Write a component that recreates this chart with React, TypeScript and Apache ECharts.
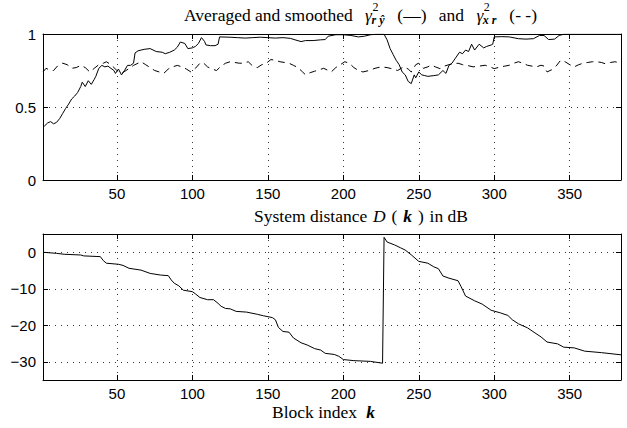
import React, { useEffect, useRef } from "react";
import * as echarts from "echarts";

// ---- axes ----
const kMin = 1;
const kMax = 384;
const xTicks = [50, 100, 150, 200, 250, 300, 350];
const topYTicks = [0, 0.5, 1];
const bottomYTicks = [-30, -20, -10, 0];

// ---- averaged & smoothed gamma^2_{r yhat} (solid) ----
const gammaRyK = [1, 2, 4, 6, 8, 10, 12, 14, 16, 18, 20, 22, 24, 26, 27, 29, 31, 33, 35, 36, 38, 40, 42, 44, 46, 48, 49, 51, 53, 55, 57, 59, 61, 62, 64, 68, 72, 76, 80, 82, 85, 88, 90, 92, 95, 97, 100, 102, 104, 106, 108, 109, 112, 115, 117, 118, 125, 130, 135, 140, 145, 150, 155, 160, 165, 168, 172, 175, 180, 185, 188, 190, 195, 200, 205, 210, 214, 218, 222, 227, 229, 231, 233, 235, 237, 239, 241, 243, 245, 247, 248, 250, 252, 254, 256, 260, 263, 266, 268, 270, 272, 274, 277, 279, 281, 283, 285, 287, 290, 293, 295, 298, 299, 300, 305, 310, 316, 321, 326, 330, 333, 336, 340, 343, 346, 360, 384];
const gammaRyV = [0.36, 0.37, 0.39, 0.4, 0.385, 0.395, 0.42, 0.455, 0.49, 0.52, 0.555, 0.575, 0.6, 0.64, 0.67, 0.64, 0.68, 0.655, 0.69, 0.71, 0.765, 0.785, 0.775, 0.78, 0.765, 0.75, 0.73, 0.76, 0.72, 0.75, 0.785, 0.785, 0.8, 0.87, 0.885, 0.895, 0.9, 0.88, 0.875, 0.865, 0.875, 0.89, 0.91, 0.945, 0.935, 0.9, 0.905, 0.915, 0.935, 0.975, 0.95, 0.925, 0.92, 0.92, 0.93, 0.98, 0.978, 0.975, 0.972, 0.975, 0.978, 0.975, 0.972, 0.975, 0.97, 0.96, 0.948, 0.955, 0.955, 0.96, 0.962, 0.985, 0.995, 0.995, 0.99, 0.98, 0.985, 0.995, 0.998, 0.998, 0.96, 0.9, 0.86, 0.82, 0.79, 0.74, 0.72, 0.675, 0.66, 0.72, 0.7, 0.74, 0.72, 0.715, 0.71, 0.715, 0.72, 0.75, 0.73, 0.785, 0.8, 0.83, 0.875, 0.865, 0.89, 0.88, 0.93, 0.89, 0.93, 0.905, 0.915, 0.925, 0.93, 0.98, 0.982, 0.98, 0.968, 0.965, 0.968, 0.99, 0.99, 0.962, 0.965, 0.99, 0.998, 0.998, 0.998];

// ---- averaged & smoothed gamma^2_{x r} (dashed) ----
const gammaXrK = [1, 3, 6, 8, 11, 14, 17, 20, 23, 26, 29, 32, 35, 38, 41, 43, 46, 48, 50, 53, 56, 59, 61, 64, 66, 69, 72, 75, 78, 81, 84, 87, 90, 93, 96, 99, 102, 105, 107, 110, 113, 116, 119, 122, 125, 128, 131, 134, 137, 140, 143, 146, 149, 152, 155, 158, 161, 164, 167, 170, 173, 175, 178, 181, 184, 187, 190, 192, 195, 198, 201, 204, 207, 210, 213, 217, 221, 225, 229, 233, 236, 240, 243, 245, 248, 250, 253, 256, 258, 261, 264, 267, 270, 273, 276, 279, 282, 286, 290, 294, 297, 300, 304, 307, 310, 313, 316, 319, 322, 325, 328, 331, 333, 335, 338, 341, 344, 347, 350, 353, 356, 359, 362, 365, 368, 371, 374, 377, 380, 384];
const gammaXrV = [0.74, 0.765, 0.75, 0.75, 0.785, 0.8, 0.79, 0.765, 0.77, 0.785, 0.77, 0.74, 0.765, 0.79, 0.8, 0.81, 0.79, 0.77, 0.75, 0.73, 0.75, 0.77, 0.785, 0.8, 0.81, 0.79, 0.77, 0.75, 0.74, 0.73, 0.76, 0.775, 0.785, 0.775, 0.76, 0.74, 0.765, 0.8, 0.805, 0.775, 0.76, 0.75, 0.78, 0.8, 0.81, 0.805, 0.8, 0.8, 0.81, 0.78, 0.77, 0.79, 0.8, 0.825, 0.82, 0.81, 0.805, 0.8, 0.785, 0.77, 0.74, 0.72, 0.735, 0.745, 0.755, 0.765, 0.75, 0.74, 0.77, 0.79, 0.81, 0.8, 0.77, 0.75, 0.74, 0.75, 0.765, 0.775, 0.77, 0.76, 0.75, 0.775, 0.76, 0.74, 0.79, 0.8, 0.765, 0.775, 0.786, 0.775, 0.763, 0.78, 0.79, 0.795, 0.8, 0.79, 0.785, 0.775, 0.78, 0.786, 0.775, 0.763, 0.774, 0.78, 0.786, 0.8, 0.81, 0.8, 0.786, 0.78, 0.775, 0.786, 0.78, 0.74, 0.755, 0.78, 0.82, 0.81, 0.79, 0.775, 0.79, 0.8, 0.805, 0.81, 0.81, 0.805, 0.795, 0.805, 0.81, 0.8];

// ---- system distance D(k) in dB ----
const distK = [1, 10, 15, 26, 28, 39, 41, 43, 51, 54, 58, 66, 72, 79, 84, 86, 88, 91, 94, 100, 102, 105, 110, 114, 117, 119, 122, 125, 129, 136, 143, 147, 153, 155, 157, 160, 164, 167, 172, 176, 181, 185, 188, 194, 197, 200, 207, 218, 226, 227, 229, 234, 238, 241, 245, 250, 256, 260, 263, 266, 270, 276, 278, 281, 287, 292, 298, 304, 309, 312, 316, 322, 327, 331, 335, 342, 346, 353, 360, 371, 384];
const distV = [0, -0.3, -0.55, -0.75, -1.0, -1.2, -2.3, -3.0, -3.3, -3.6, -4.4, -4.9, -5.8, -6.25, -6.4, -7.6, -8.5, -9.2, -10.4, -10.8, -11.4, -12.4, -13.0, -13.0, -14.0, -14.8, -15.4, -15.5, -16.2, -16.4, -17.0, -17.4, -17.9, -18.5, -20.6, -21.7, -21.9, -23.5, -24.8, -25.4, -26.4, -26.8, -27.7, -28.0, -28.5, -29.4, -29.7, -29.9, -30.4, 4.1, 2.8, 2.0, 1.2, 0.6, -0.7, -2.5, -3.0, -4.0, -4.5, -6.5, -7.1, -7.8, -9.4, -12.0, -13.3, -14.2, -15.9, -16.6, -17.3, -18.5, -19.6, -20.7, -22.1, -23.2, -24.6, -25.1, -26.0, -26.2, -27.1, -27.5, -28.1];

const SERIF = "'Liberation Serif', 'Times New Roman', serif";
const SANS = "'Liberation Sans', Arial, sans-serif";

function pairs(k: number[], v: number[]) {
  return k.map((x, i) => [x, v[i]]);
}

function fmtNum(v: number) {
  return v < 0 ? "\u2212" + Math.abs(v) : String(v);
}

function xAxesFor(gridIndex: number) {
  const common = {
    gridIndex,
    type: "value",
    min: kMin,
    max: kMax,
    axisLine: { show: true, onZero: false, lineStyle: { color: "#000", width: 1 } },
    axisTick: { show: true, inside: true, length: 5, customValues: xTicks, lineStyle: { color: "#000" } },
  };
  return [
    {
      ...common,
      position: "bottom",
      axisLabel: { show: true, customValues: xTicks, color: "#000", fontSize: 15, fontFamily: SANS, margin: 6 },
      splitLine: { show: true, lineStyle: { color: "#333", width: 1, type: [1, 5] } },
    },
    {
      ...common,
      position: "top",
      axisLabel: { show: false },
      splitLine: { show: false },
    },
  ];
}

function yAxesFor(gridIndex: number, min: number, max: number, ticks: number[]) {
  const common = {
    gridIndex,
    type: "value",
    min,
    max,
    axisLine: { show: true, onZero: false, lineStyle: { color: "#000", width: 1 } },
    axisTick: { show: true, inside: true, length: 5, customValues: ticks, lineStyle: { color: "#000" } },
  };
  return [
    {
      ...common,
      position: "left",
      axisLabel: { show: true, customValues: ticks, color: "#000", fontSize: 15, fontFamily: SANS, margin: 7, formatter: fmtNum },
      splitLine: { show: true, lineStyle: { color: "#333", width: 1, type: [1, 5] } },
    },
    {
      ...common,
      position: "right",
      axisLabel: { show: false },
      splitLine: { show: false },
    },
  ];
}

export default function App() {
  const ref = useRef<HTMLDivElement>(null);

  useEffect(() => {
    if (!ref.current) return;
    const chart = echarts.init(ref.current, undefined, { renderer: "svg" });

    const canvas = document.createElement("canvas");
    const ctx = canvas.getContext("2d")!;
    const fontStr = (fs: number, style = "normal", weight = "normal") => `${style} ${weight} ${fs}px ${SERIF}`;
    const measure = (t: string, fs: number, style = "normal", weight = "normal") => {
      ctx.font = fontStr(fs, style, weight);
      return ctx.measureText(t).width;
    };

    const mainFs = 17.5;
    const smallFs = 12;
    const els: any[] = [];
    const addText = (text: string, fs: number, style: string, weight: string, bx: number, by: number) => {
      els.push({
        type: "text",
        x: bx,
        y: by - 0.34 * fs,
        silent: true,
        style: {
          text,
          fill: "#000",
          fontSize: fs,
          fontFamily: SERIF,
          fontStyle: style,
          fontWeight: weight,
          textAlign: "left",
          textVerticalAlign: "middle",
          align: "left",
          verticalAlign: "middle",
        },
      });
    };

    // Row layout: pieces spread between startX and endX with equal gaps
    type Piece = { text: string; style?: string; weight?: string; sup?: string; sub?: string };
    const layoutRow = (pieces: Piece[], startX: number, endX: number, base: number) => {
      const widths = pieces.map((p) => {
        let w = measure(p.text, mainFs, p.style || "normal", p.weight || "normal");
        if (p.sup || p.sub) {
          const ws = p.sup ? measure(p.sup, smallFs) : 0;
          const wb = p.sub ? measure(p.sub, smallFs, "italic", "bold") : 0;
          w += Math.max(ws, wb);
        }
        return w;
      });
      const total = widths.reduce((a, b) => a + b, 0);
      const gap = pieces.length > 1 ? (endX - startX - total) / (pieces.length - 1) : 0;
      let x = startX;
      pieces.forEach((p, i) => {
        addText(p.text, mainFs, p.style || "normal", p.weight || "normal", x, base);
        if (p.sup || p.sub) {
          const gx = x + measure(p.text, mainFs, p.style || "normal", p.weight || "normal");
          if (p.sup) addText(p.sup, smallFs, "normal", "normal", gx + 0.5, base - 9.5);
          if (p.sub) addText(p.sub, smallFs, "italic", "bold", gx - 0.5, base + 3.5);
        }
        x += widths[i] + gap;
      });
    };

    // Top title
    layoutRow(
      [
        { text: "Averaged and smoothed" },
        { text: "\u03b3", style: "italic", sup: "2", sub: "r \u0177" },
        { text: "(\u2014)" },
        { text: "and" },
        { text: "\u03b3", style: "italic", sup: "2", sub: "x r" },
        { text: "(- -)" },
      ],
      184,
      537,
      20.5
    );

    // Bottom title
    layoutRow(
      [
        { text: "System distance" },
        { text: "D", style: "italic" },
        { text: "(" },
        { text: "k", style: "italic", weight: "bold" },
        { text: ")" },
        { text: "in dB" },
      ],
      254,
      468,
      221.5
    );

    // x axis label
    layoutRow(
      [
        { text: "Block index" },
        { text: "k", style: "italic", weight: "bold" },
      ],
      272,
      375,
      418
    );

    const option: any = {
      animation: false,
      backgroundColor: "#fff",
      grid: [
        { left: 43, top: 34, width: 578, height: 146, containLabel: false },
        { left: 43, top: 234, width: 578, height: 146, containLabel: false },
      ],
      xAxis: [...xAxesFor(0), ...xAxesFor(1)],
      yAxis: [...yAxesFor(0, 0, 1, topYTicks), ...yAxesFor(1, -35, 5, bottomYTicks)],
      series: [
        {
          name: "gamma_ry",
          type: "line",
          xAxisIndex: 0,
          yAxisIndex: 0,
          data: pairs(gammaRyK, gammaRyV),
          showSymbol: false,
          symbol: "none",
          silent: true,
          lineStyle: { color: "#000", width: 1 },
        },
        {
          name: "gamma_xr",
          type: "line",
          xAxisIndex: 0,
          yAxisIndex: 0,
          data: pairs(gammaXrK, gammaXrV),
          showSymbol: false,
          symbol: "none",
          silent: true,
          lineStyle: { color: "#000", width: 1, type: [7, 5] },
        },
        {
          name: "D",
          type: "line",
          xAxisIndex: 2,
          yAxisIndex: 2,
          data: pairs(distK, distV),
          showSymbol: false,
          symbol: "none",
          silent: true,
          lineStyle: { color: "#000", width: 1 },
        },
      ],
      graphic: els,
    };

    chart.setOption(option);
    return () => chart.dispose();
  }, []);

  return (
    <div
      ref={ref}
      style={{ position: "absolute", left: 0, top: 0, width: 627, height: 428, background: "#fff" }}
    />
  );
}
